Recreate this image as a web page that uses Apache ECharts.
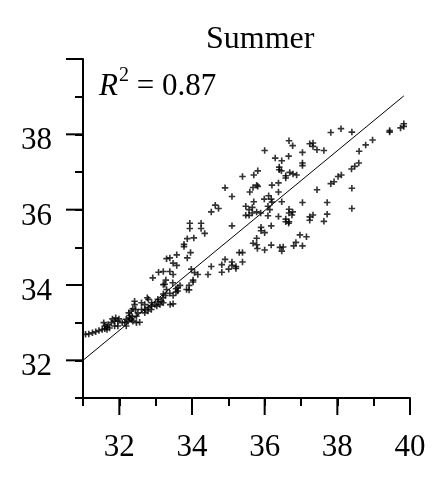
<!DOCTYPE html>
<html>
<head>
<meta charset="utf-8">
<script src="https://cdn.jsdelivr.net/npm/echarts@6/dist/echarts.min.js"></script>
<style>html,body{margin:0;padding:0;background:#fff;}#c{width:444px;height:488px;}</style>
</head>
<body>
<div id="c"></div>
<script>
const chartTitle = 'Summer';
const r2Label = '0.87';
const xTicks = [31, 32, 33, 34, 35, 36, 37, 38, 39, 40];
const majorTicks = [32, 34, 36, 38, 40];
const fitX = [31, 39.83];
const fitY = [32.0, 39.02];
const xValues = [
37.82,38.10,38.40,39.44,39.44,39.74,39.83,39.83,40.19,40.13,
37.04,37.24,37.33,37.33,37.44,37.63,37.04,37.04,38.60,38.78,
38.97,38.59,38.48,38.39,38.11,38.02,37.91,37.82,37.44,38.40,
37.04,37.72,37.72,37.33,37.24,37.24,37.63,38.40,37.15,36.97,
37.04,
36.67,36.77,36.00,36.29,36.47,36.66,36.40,36.40,
36.46,36.69,36.78,36.88,36.58,36.58,35.39,35.70,35.81,36.38,
36.20,35.78,35.68,35.59,34.91,35.10,36.11,36.18,36.38,34.64,
34.73,34.53,35.70,35.48,35.57,35.48,35.57,35.66,35.89,36.09,
36.14,36.09,36.38,36.47,36.67,36.77,36.67,36.58,36.67,36.58,
33.94,33.94,34.05,34.25,34.25,34.35,35.10,35.90,35.90,
36.18,35.78,35.78,35.68,36.86,36.80,36.18,36.42,
36.51,35.80,36.00,36.47,36.00,
33.96,33.58,33.30,33.39,33.87,33.48,33.58,33.08,33.21,33.39,33.48,
32.92,33.98,34.07,34.16,34.03,34.03,33.28,33.21,33.67,33.56,
33.56,33.92,33.92,33.85,33.30,33.39,33.48,33.21,34.44,34.53,
34.82,34.82,34.91,35.10,35.10,35.21,35.21,35.01,35.30,35.39,
35.39,33.78,33.78,33.87,
32.61,32.70,32.80,32.89,
32.98,33.07,33.16,32.61,32.70,32.80,32.89,33.03,33.12,33.21,
33.48,32.77,31.07,31.16,31.26,31.35,31.44,31.53,31.60,31.60,
31.66,31.66,31.57,31.69,31.78,31.87,31.96,31.87,31.96,31.81,
31.90,31.99,31.73,32.08,32.19,32.28,32.15,32.24,32.26,32.33,
32.37,32.42,32.42,32.45,32.51,32.47,32.28,32.36,32.37,32.47,
32.56,32.33,32.19,32.79,32.70,32.88,33.06,33.20,
33.27,33.25,33.47,33.61,33.61,33.40,36.66,36.75,35.78,
35.66,35.99,35.81,36.20
];
const yValues = [
38.05,38.15,38.06,38.10,38.06,38.17,38.28,38.21,37.82,37.12,
37.52,37.75,37.77,37.68,37.59,37.57,37.24,37.17,37.55,37.72,
37.85,37.24,37.15,37.08,36.92,36.88,36.74,36.69,36.53,36.57,
36.19,36.19,35.88,35.86,35.81,35.72,35.69,36.03,35.28,35.33,
35.04,
37.83,37.70,37.57,37.37,37.30,37.42,37.13,37.06,
37.03,36.99,36.95,36.92,36.90,36.84,36.88,36.92,37.03,36.71,
36.65,36.65,36.59,36.47,36.58,36.35,36.37,36.28,36.47,36.12,
36.03,35.94,36.21,36.09,36.00,35.85,35.85,35.91,35.91,36.09,
36.00,35.84,35.82,36.21,36.01,35.94,35.91,35.75,35.68,35.68,
35.64,35.50,35.25,35.64,35.50,35.37,35.57,35.53,35.44,
35.57,35.24,35.07,35.11,35.13,35.04,35.06,35.00,
35.01,34.97,34.93,34.90,35.39,
34.86,34.80,34.70,34.72,34.72,34.58,34.52,34.34,34.36,34.36,34.28,
34.19,34.42,34.33,34.28,34.13,34.08,34.13,34.01,33.99,33.90,
33.81,33.99,33.87,33.88,33.88,33.78,33.72,33.76,34.28,34.49,
34.54,34.34,34.68,34.61,34.52,34.49,34.44,34.42,34.86,34.86,
34.61,35.08,35.02,35.23,
33.53,33.48,33.62,33.53,
33.48,33.55,33.57,33.35,33.35,33.40,33.44,33.44,33.48,33.53,
33.50,33.66,32.69,32.70,32.73,32.76,32.79,32.82,32.91,32.84,
32.82,32.88,33.00,32.95,33.00,33.04,33.04,32.91,32.91,33.10,
33.13,33.10,32.86,33.00,33.09,33.13,33.01,33.04,33.26,33.31,
33.37,33.48,33.57,33.35,33.26,33.17,33.19,33.16,33.04,33.00,
33.01,33.08,32.91,33.31,33.26,33.35,33.62,33.66,
33.72,34.02,34.06,33.84,33.93,33.48,35.64,35.86,35.94,
36.06,36.28,36.62,36.20
];

const points = xValues.map((x, i) => [x, yValues[i]]);
const fitLine = fitX.map((x, i) => [x, fitY[i]]);
const FONT = '"Liberation Serif", "DejaVu Serif", serif';
const plus = 'path://M3.75,0h2.5v3.75h3.75v2.5h-3.75v3.75h-2.5v-3.75h-3.75v-2.5h3.75z';

const chart = echarts.init(document.getElementById('c'), null, {renderer: 'canvas'});
const axisCommon = {
  type: 'value', min: 31, max: 40, interval: 1,
  axisLine: {show: true, lineStyle: {color: '#000', width: 2}},
  axisTick: {show: true, length: 8, lineStyle: {color: '#000', width: 2}},
  splitLine: {show: false}
};
chart.setOption({
  animation: false,
  backgroundColor: '#fff',
  title: [
    {text: chartTitle, left: 201, top: 19, textStyle: {fontFamily: FONT, fontSize: 32, fontWeight: 'normal', color: '#000'}},
    {text: '{i|R}{s|2}{n| = ' + r2Label + '}', left: 94, top: 61,
     textStyle: {fontWeight: 'normal', rich: {
       i: {fontFamily: FONT, fontStyle: 'italic', fontWeight: 'normal', fontSize: 31, color: '#000', verticalAlign: 'bottom'},
       s: {fontFamily: FONT, fontWeight: 'normal', fontSize: 20, color: '#000', verticalAlign: 'top', padding: [0, 0, 16, 1]},
       n: {fontFamily: FONT, fontWeight: 'normal', fontSize: 31, color: '#000', verticalAlign: 'bottom'}
     }}}
  ],
  grid: {left: 83, top: 59, right: 34, bottom: 90, containLabel: false},
  xAxis: Object.assign({}, axisCommon, {
    axisLabel: {show: true, margin: 34, fontFamily: FONT, fontSize: 31, color: '#000',
      formatter: v => (v % 2 === 0 ? String(v) : '')}
  }),
  yAxis: Object.assign({}, axisCommon, {
    axisLabel: {show: true, margin: 31, fontFamily: FONT, fontSize: 31, color: '#000',
      verticalAlign: 'top', lineHeight: 14,
      formatter: v => (v % 2 === 0 && v < 40 ? String(v) : '')}
  }),
  series: [
    {
      type: 'scatter', data: points, symbol: plus, symbolSize: 6.5,
      itemStyle: {color: '#000'}, silent: true
    },
    {
      type: 'line', data: fitLine, showSymbol: false, symbol: 'none',
      lineStyle: {color: '#000', width: 1}, silent: true
    },
    {
      type: 'custom', clip: false, silent: true,
      data: majorTicks.map(v => [v]),
      renderItem: (params, api) => {
        const v = api.value(0);
        const px = api.coord([v, 31]);
        const py = api.coord([31, v]);
        return {type: 'group', children: [
          {type: 'line', shape: {x1: px[0], y1: px[1], x2: px[0], y2: px[1] + 17}, style: {stroke: '#000', lineWidth: 2}},
          {type: 'line', shape: {x1: py[0], y1: py[1], x2: py[0] - 17, y2: py[1]}, style: {stroke: '#000', lineWidth: 2}}
        ]};
      }
    }
  ]
});
</script>
</body>
</html>
